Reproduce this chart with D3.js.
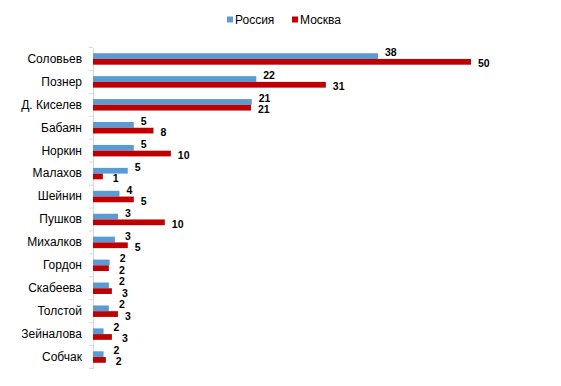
<!DOCTYPE html>
<html>
<head>
<meta charset="utf-8">
<script src="https://cdn.jsdelivr.net/npm/d3@7/dist/d3.min.js"></script>
<style>
  body { margin: 0; background: #fff; }
  svg { display: block; }
</style>
</head>
<body>
<svg id="chart" width="561" height="386"></svg>
<script>
const names = ['Соловьев', 'Познер', 'Д. Киселев', 'Бабаян', 'Норкин', 'Малахов', 'Шейнин',
  'Пушков', 'Михалков', 'Гордон', 'Скабеева', 'Толстой', 'Зейналова', 'Собчак'];
const seriesNames = ['Россия', 'Москва'];
// bar lengths and the printed labels
const russia = [37.7, 21.6, 21.0, 5.4, 5.4, 4.6, 3.5, 3.3, 2.9, 2.2, 2.1, 2.1, 1.4, 1.4];
const moscow = [50, 30.8, 20.9, 8.0, 10.3, 1.3, 5.4, 9.5, 4.6, 2.1, 2.5, 3.3, 2.5, 1.7];
const russiaLabels = [38, 22, 21, 5, 5, 5, 4, 3, 3, 2, 2, 2, 2, 2];
const moscowLabels = [50, 31, 21, 8, 10, 1, 5, 10, 5, 2, 3, 3, 3, 2];
const colors = ['#5b9bd5', '#c00000'];

const svg = d3.select('#chart');
const plotLeft = 93, plotRight = 471;
const plotTop = 47.5, plotBottom = 368.5;

const x = d3.scaleLinear().domain([0, 50]).range([plotLeft, plotRight]);
const y = d3.scaleBand().domain(names).range([plotTop, plotBottom])
  .paddingInner(0.5).paddingOuter(0.25);
const ys = d3.scaleBand().domain(seriesNames).range([0, y.bandwidth()]);

const series = [
  { name: seriesNames[0], values: russia, labels: russiaLabels },
  { name: seriesNames[1], values: moscow, labels: moscowLabels }
];

// category axis
const axis = svg.append('g')
  .attr('transform', `translate(${plotLeft},0)`)
  .call(d3.axisLeft(y).tickSize(0).tickPadding(11));
axis.select('.domain').attr('stroke', '#d9d9d9');
axis.selectAll('text')
  .attr('font-family', 'Liberation Sans, Arial, sans-serif')
  .attr('font-size', 12)
  .attr('fill', '#000');

// tick marks between categories
const step = y.step();
const tickYs = d3.range(names.length + 1).map(i => plotTop + i * step);
svg.append('g').selectAll('line').data(tickYs).join('line')
  .attr('x1', plotLeft - 4).attr('x2', plotLeft)
  .attr('y1', d => d).attr('y2', d => d)
  .attr('stroke', '#d9d9d9');

series.forEach((s, si) => {
  const g = svg.append('g');
  g.selectAll('rect').data(names).join('rect')
    .attr('x', x(0))
    .attr('y', (d, i) => y(d) + ys(s.name))
    .attr('width', (d, i) => x(s.values[i]) - x(0))
    .attr('height', ys.bandwidth())
    .attr('fill', colors[si]);
  g.selectAll('text').data(names).join('text')
    .attr('x', (d, i) => x(s.values[i]) + (s.values[i] < 3 ? 10 : 7))
    .attr('y', (d, i) => y(d) + ys(s.name) + ys.bandwidth() / 2 + (si === 0 ? -4 : 1.5))
    .attr('dominant-baseline', 'central')
    .attr('font-family', 'Liberation Sans, Arial, sans-serif')
    .attr('font-size', 10.5)
    .attr('font-weight', 'bold')
    .attr('fill', '#000')
    .text((d, i) => s.labels[i]);
});

// legend
const legend = svg.append('g');
const legendX = [227, 292];
seriesNames.forEach((n, i) => {
  legend.append('rect')
    .attr('x', legendX[i]).attr('y', 16.5)
    .attr('width', 6).attr('height', 6)
    .attr('fill', colors[i]);
  legend.append('text')
    .attr('x', legendX[i] + 8).attr('y', 20)
    .attr('dominant-baseline', 'central')
    .attr('font-family', 'Liberation Sans, Arial, sans-serif')
    .attr('font-size', 12)
    .attr('fill', '#000')
    .text(n);
});
</script>
</body>
</html>
